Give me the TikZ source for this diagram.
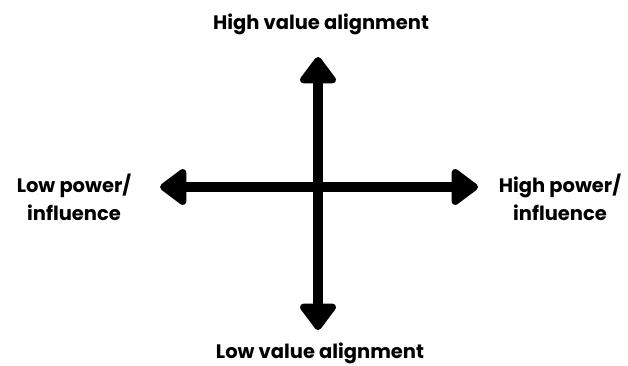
\documentclass[tikz,border=0pt]{standalone}
\usepackage{fontspec}
\setmainfont{Poppins}
\usetikzlibrary{positioning, arrows.meta}

\begin{document}
\begin{tikzpicture}[x=1pt, y=1pt, every node/.style={align=center, font=\bfseries\fontsize{19.5}{28}\selectfont}, axis/.style={line width=10pt, {Triangle[length=29pt, width=41pt, round]}-{Triangle[length=29pt, width=41pt, round]}}]
        \useasboundingbox (0,0) rectangle (628,365);
        % Axis end points
        \coordinate (left) at (160,178);
        \coordinate (right) at (478,178);
        \coordinate (top) at (318,308);
        \coordinate (bottom) at (318,35);

        % Labels
        \node (highvalue) at (321,341) {High value alignment};
        \node (lowvalue) at (320,12) {Low value alignment};
        \node (lowpower) at (74,168) {Low power/\\influence};
        \node (highpower) at (560,168) {High power/\\influence};

        % Axes
        \draw[axis] (left) -- (right);
        \draw[axis] (bottom) -- (top);
    \end{tikzpicture}
\end{document}
